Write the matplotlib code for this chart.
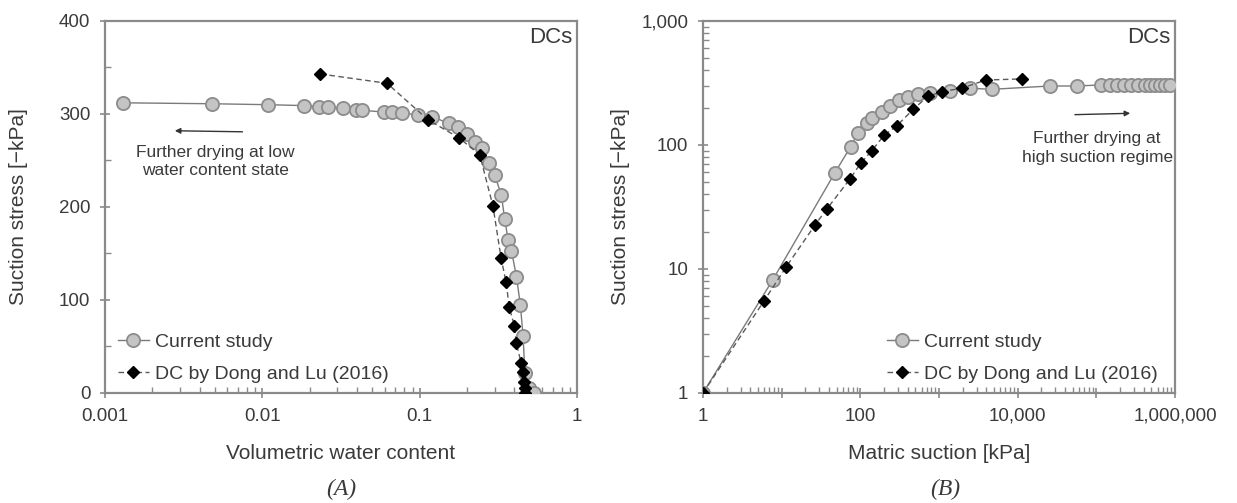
import math
import matplotlib
matplotlib.use('Agg')
import matplotlib.pyplot as plt
from matplotlib.ticker import FuncFormatter, LogLocator, NullFormatter, MultipleLocator

plt.rcParams['font.family'] = ['Liberation Sans', 'DejaVu Sans']

# panel A: suction stress vs volumetric water content
vwc_cur = [0.00131, 0.00479, 0.0108, 0.0184, 0.0228, 0.0262, 0.0324, 0.0394, 0.0431,
           0.0594, 0.0667, 0.0773, 0.0977, 0.120, 0.153, 0.175, 0.200, 0.226, 0.249,
           0.275, 0.300, 0.330, 0.347, 0.365, 0.383, 0.412, 0.436, 0.454, 0.466, 0.494, 0.536]
ss_cur_a = [312, 311, 310, 309, 308, 308, 306, 304, 304, 302, 302, 301, 299, 297, 290,
            286, 279, 270, 263, 247, 234, 213, 187, 164, 153, 125, 95, 61, 21, 5, 0]
vwc_dong = [0.0234, 0.062, 0.1125, 0.179, 0.241, 0.292, 0.329, 0.354, 0.371, 0.400,
            0.410, 0.442, 0.452, 0.459, 0.466, 0.470]
ss_dong_a = [343, 333, 294, 274, 256, 201, 145, 119, 92, 72, 54, 32, 23, 12, 5, 0]

# panel B: suction stress vs matric suction
suc_cur = [1, 7.69, 47.6, 75.3, 94, 120, 139, 187, 238, 312, 406, 544, 766, 1375, 2470,
           4660, 25600, 56000, 116000, 148000, 182000, 223000, 274000, 336000, 413000,
           479000, 553000, 641000, 741000, 859000]
ss_cur_b = [1, 8.15, 59.8, 96.9, 126, 151, 164, 186, 206, 231, 245, 257, 264, 274, 287,
            281, 299, 299, 305, 305, 305, 305, 305, 306, 306, 306, 306, 306, 306, 306]
suc_dong = [1, 5.96, 11.3, 26.5, 37.3, 73.8, 101, 139, 201, 289, 470, 729, 1099, 1937,
            3945, 11200]
ss_dong_b = [1, 5.52, 10.3, 22.6, 30.3, 53.2, 71.2, 89.5, 120, 142, 194, 248, 269, 287,
             334, 341]

text_c = '#3a3a3a'
frame_c = '#8a8a8a'

fig = plt.figure(figsize=(12.37, 5.03), dpi=100)
axA = fig.add_axes([0.0849, 0.2187, 0.3816, 0.7396])
axB = fig.add_axes([0.5683, 0.2187, 0.3816, 0.7396])


def draw_series(ax, x1, y1, x2, y2):
  ax.plot(x1, y1, '-', color='#7a7a7a', lw=1.0, marker='o', ms=9.5,
          mfc='#c4c4c4', mec='#8c8c8c', mew=1.3, label='Current study', zorder=3)
  ax.plot(x2, y2, '--', color='#5a5a5a', lw=1.0, dashes=(4, 2.5), marker='D', ms=6.5,
          mfc='black', mec='black', label='DC by Dong and Lu (2016)', zorder=4)


def style_axes(ax):
  for s in ax.spines.values():
    s.set_color(frame_c)
    s.set_linewidth(1.6)
  ax.tick_params(which='major', direction='inout', length=7, width=1.2, color=frame_c,
                 labelsize=13.5, labelcolor=text_c, pad=7)
  ax.tick_params(which='minor', direction='in', length=4, width=1.0, color=frame_c)


def even_decades(v, pos):
  if round(math.log10(v)) % 2 == 0:
    return '{:,}'.format(int(round(v)))
  return ''


# panel A
draw_series(axA, vwc_cur, ss_cur_a, vwc_dong, ss_dong_a)
axA.set_xscale('log')
axA.set_xlim(0.001, 1)
axA.set_ylim(0, 400)
axA.yaxis.set_major_locator(MultipleLocator(100))
axA.yaxis.set_minor_locator(MultipleLocator(50))
axA.xaxis.set_major_formatter(FuncFormatter(lambda v, p: '{:g}'.format(v)))
axA.xaxis.set_minor_formatter(NullFormatter())
style_axes(axA)
axA.set_xlabel('Volumetric water content', fontsize=15, color=text_c, labelpad=14)
axA.set_ylabel('Suction stress [\u2212kPa]', fontsize=15, color=text_c, labelpad=22)
axA.text(0.99, 0.955, 'DCs', transform=axA.transAxes, ha='right', va='center',
         fontsize=16, color=text_c)
axA.annotate('', xy=(0.142, 0.705), xytext=(0.297, 0.702), xycoords='axes fraction',
             arrowprops=dict(arrowstyle='-|>', color='#333333', lw=1.0, mutation_scale=8))
axA.text(0.233, 0.622, 'Further drying at low\nwater content state', transform=axA.transAxes,
         ha='center', va='center', fontsize=12.5, color=text_c, linespacing=1.3)
axA.legend(loc='lower left', bbox_to_anchor=(-0.01, -0.02), frameon=False, fontsize=14,
           labelcolor=text_c, handlelength=1.6, handletextpad=0.3, labelspacing=0.75)

# panel B
draw_series(axB, suc_cur, ss_cur_b, suc_dong, ss_dong_b)
axB.set_xscale('log')
axB.set_yscale('log')
axB.set_xlim(1, 1e6)
axB.set_ylim(1, 1000)
axB.xaxis.set_major_locator(LogLocator(base=10, numticks=10))
axB.xaxis.set_minor_locator(LogLocator(base=10, subs=range(2, 10), numticks=100))
axB.yaxis.set_minor_locator(LogLocator(base=10, subs=range(2, 10), numticks=100))
axB.xaxis.set_major_formatter(FuncFormatter(even_decades))
axB.yaxis.set_major_formatter(FuncFormatter(lambda v, p: '{:,}'.format(int(round(v)))))
axB.xaxis.set_minor_formatter(NullFormatter())
axB.yaxis.set_minor_formatter(NullFormatter())
style_axes(axB)
axB.set_xlabel('Matric suction [kPa]', fontsize=15, color=text_c, labelpad=14)
axB.set_ylabel('Suction stress [\u2212kPa]', fontsize=15, color=text_c, labelpad=8)
axB.text(0.99, 0.955, 'DCs', transform=axB.transAxes, ha='right', va='center',
         fontsize=16, color=text_c)
axB.annotate('', xy=(0.911, 0.752), xytext=(0.782, 0.748), xycoords='axes fraction',
             arrowprops=dict(arrowstyle='-|>', color='#333333', lw=1.0, mutation_scale=8))
axB.text(0.835, 0.658, 'Further drying at\nhigh suction regime', transform=axB.transAxes,
         ha='center', va='center', fontsize=12.5, color=text_c, linespacing=1.3)
axB.legend(loc='lower right', bbox_to_anchor=(1.0, -0.02), frameon=False, fontsize=14,
           labelcolor=text_c, handlelength=1.6, handletextpad=0.3, labelspacing=0.75)

fig.text(0.2757, 0.027, '(A)', ha='center', va='center', fontsize=17,
         family='Liberation Serif', style='italic', color=text_c)
fig.text(0.764, 0.027, '(B)', ha='center', va='center', fontsize=17,
         family='Liberation Serif', style='italic', color=text_c)

fig.savefig('out.png', dpi=100)
